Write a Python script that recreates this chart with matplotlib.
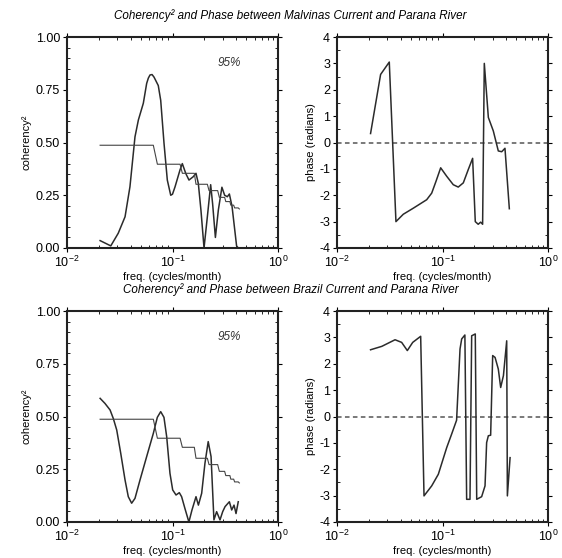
import matplotlib
matplotlib.use("Agg")
import matplotlib.pyplot as plt
from matplotlib.ticker import MultipleLocator, FormatStrFormatter, LogLocator

plt.rcParams['font.family'] = ['Liberation Sans', 'DejaVu Sans']
plt.rcParams['mathtext.fontset'] = 'custom'
plt.rcParams['mathtext.rm'] = 'Liberation Sans'
plt.rcParams['mathtext.default'] = 'regular'
plt.rcParams['axes.unicode_minus'] = False

# --- 95% significance level (same for both pairs)
sig_f = [0.0206, 0.0658, 0.0719, 0.118, 0.124, 0.161, 0.167, 0.214, 0.222,
         0.268, 0.278, 0.312, 0.32, 0.35, 0.357, 0.38, 0.388, 0.42, 0.43]
sig_c = [0.487, 0.487, 0.397, 0.397, 0.354, 0.354, 0.302, 0.302, 0.272,
         0.272, 0.24, 0.24, 0.22, 0.22, 0.203, 0.203, 0.19, 0.19, 0.185]

# --- Malvinas Current vs Parana River
mal_coh_f = [0.0206, 0.026, 0.0306, 0.0355, 0.0395, 0.0441, 0.0475, 0.0529,
             0.0569, 0.059, 0.0612, 0.064, 0.0668, 0.0733, 0.0773, 0.0831,
             0.0893, 0.0962, 0.1, 0.1057, 0.1178, 0.1239, 0.1334, 0.1433,
             0.1574, 0.167, 0.1757, 0.186, 0.199, 0.214, 0.230, 0.240, 0.255,
             0.272, 0.294, 0.312, 0.331, 0.346, 0.367, 0.405, 0.42]
mal_coh = [0.035, 0.01, 0.07, 0.148, 0.29, 0.527, 0.607, 0.686,
           0.78, 0.805, 0.82, 0.822, 0.81, 0.77, 0.70, 0.496,
           0.322, 0.25, 0.255, 0.29, 0.37, 0.40, 0.354, 0.322,
           0.338, 0.354, 0.306, 0.18, 0.0, 0.148, 0.30, 0.21, 0.05,
           0.18, 0.288, 0.25, 0.243, 0.256, 0.196, 0.01, 0.0]

mal_ph_f = [0.0208, 0.0259, 0.0313, 0.0362, 0.0425, 0.0529, 0.0708, 0.079,
            0.0868, 0.0961, 0.1096, 0.1265, 0.141, 0.1575, 0.1757, 0.193,
            0.2045, 0.218, 0.230, 0.240, 0.249, 0.272, 0.303, 0.338, 0.364,
            0.391, 0.43]
mal_ph = [0.34, 2.58, 3.05, -3.0, -2.72, -2.49, -2.17, -1.92,
          -1.47, -0.96, -1.28, -1.6, -1.69, -1.53, -1.02, -0.60,
          -3.0, -3.1, -3.02, -3.1, 3.0, 0.95, 0.44, -0.32, -0.35,
          -0.22, -2.51]

# --- Brazil Current vs Parana River
bra_coh_f = [0.0206, 0.0229, 0.0256, 0.0275, 0.0296, 0.0323, 0.0355, 0.0381,
             0.041, 0.0441, 0.0492, 0.0569, 0.0658, 0.0718, 0.0773, 0.083,
             0.0881, 0.0946, 0.1004, 0.108, 0.116, 0.122, 0.131, 0.143,
             0.153, 0.167, 0.176, 0.189, 0.203, 0.218, 0.232, 0.247, 0.262,
             0.282, 0.299, 0.315, 0.346, 0.364, 0.383, 0.40, 0.42]
bra_coh = [0.586, 0.562, 0.531, 0.49, 0.436, 0.326, 0.199, 0.12,
           0.089, 0.112, 0.199, 0.31, 0.42, 0.496, 0.523, 0.496,
           0.404, 0.231, 0.152, 0.128, 0.139, 0.12, 0.065, 0.0,
           0.057, 0.12, 0.08, 0.136, 0.278, 0.381, 0.31, 0.01, 0.049,
           0.01, 0.049, 0.073, 0.096, 0.057, 0.08, 0.04, 0.096]

bra_ph_f = [0.0208, 0.0266, 0.0355, 0.041, 0.0464, 0.0522, 0.0621, 0.0668,
            0.079, 0.0913, 0.1096, 0.122, 0.136, 0.1466, 0.152, 0.163,
            0.1694, 0.1822, 0.189, 0.2045, 0.211, 0.235, 0.253, 0.262,
            0.272, 0.286, 0.299, 0.315, 0.338, 0.356, 0.378, 0.406, 0.412,
            0.437]
bra_ph = [2.53, 2.66, 2.91, 2.81, 2.5, 2.81, 3.04, -3.01,
          -2.63, -2.19, -1.18, -0.67, -0.14, 2.56, 2.94, 3.09,
          -3.14, -3.14, 3.06, 3.13, -3.14, -3.04, -2.63, -0.99,
          -0.73, -0.71, 2.31, 2.24, 1.80, 1.10, 1.55, 2.87, -3.01,
          -1.56]

titles = ['Coherency² and Phase between Malvinas Current and Parana River',
          'Coherency² and Phase between Brazil Current and Parana River']

LINE = '#2b2b2b'


def style_axis(ax, minor_y):
    ax.set_xscale('log')
    ax.set_xlim(0.01, 1)
    ax.xaxis.set_major_locator(LogLocator(base=10, numticks=5))
    ax.xaxis.set_minor_locator(LogLocator(base=10, subs=range(2, 10), numticks=5))
    ax.yaxis.set_minor_locator(MultipleLocator(minor_y))
    ax.tick_params(which='major', direction='out', length=3, width=0.8,
                   top=True, right=True, labelsize=9, pad=2)
    ax.tick_params(which='minor', direction='in', length=2, width=0.6,
                   top=True, right=True)
    for s in ax.spines.values():
        s.set_linewidth(1.5)
        s.set_color('#222222')
    ax.set_xlabel('freq. (cycles/month)', fontsize=8, labelpad=1)


def coherence_panel(ax, f, c):
    ax.plot(f, c, color=LINE, lw=1.1)
    ax.plot(sig_f, sig_c, color='#444444', lw=0.8)
    ax.set_ylim(0, 1)
    ax.yaxis.set_major_locator(MultipleLocator(0.25))
    ax.yaxis.set_major_formatter(FormatStrFormatter('%.2f'))
    style_axis(ax, 0.05)
    ax.set_ylabel('coherency²', fontsize=8, labelpad=3)
    ax.text(0.77, 0.875, '95%', transform=ax.transAxes, fontsize=8.5,
            style='italic', ha='center', va='center', color='#333333')


def phase_panel(ax, f, p):
    ax.axhline(0, color='#555555', lw=1.1, ls=(0, (3, 2.2)))
    ax.plot(f, p, color=LINE, lw=1.1)
    ax.set_ylim(-4, 4)
    ax.yaxis.set_major_locator(MultipleLocator(1))
    style_axis(ax, 0.5)
    ax.set_ylabel('phase (radians)', fontsize=8, labelpad=2)


fig = plt.figure(figsize=(5.62, 5.58), dpi=100)
w, h = 211 / 562, 211 / 558
ax1 = fig.add_axes([67 / 562, 1 - 248 / 558, w, h])
ax2 = fig.add_axes([337 / 562, 1 - 248 / 558, w, h])
ax3 = fig.add_axes([67 / 562, 1 - 522 / 558, w, h])
ax4 = fig.add_axes([337 / 562, 1 - 522 / 558, w, h])

coherence_panel(ax1, mal_coh_f, mal_coh)
phase_panel(ax2, mal_ph_f, mal_ph)
coherence_panel(ax3, bra_coh_f, bra_coh)
phase_panel(ax4, bra_ph_f, bra_ph)

fig.text(0.517, 1 - 16 / 558, titles[0], ha='center', va='center',
         fontsize=8.4, style='italic')
fig.text(0.518, 1 - 290 / 558, titles[1], ha='center', va='center',
         fontsize=8.4, style='italic')

fig.savefig('out.png', dpi=100, facecolor='white')
